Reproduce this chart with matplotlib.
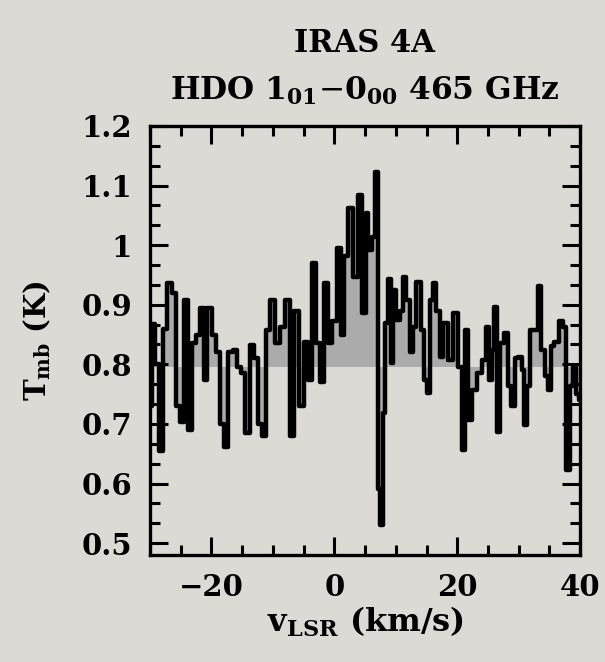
import numpy as np
import matplotlib
matplotlib.use("Agg")
import matplotlib.pyplot as plt
from matplotlib.ticker import MultipleLocator, FuncFormatter

# HDO 1_01-0_00 spectrum towards IRAS 4A
velocity = [-30.0, -29.5, -28.9, -28.3, -27.6, -26.8, -26.1, -25.4, -24.9, -24.2,
            -23.4, -22.8, -22.2, -21.6, -21.0, -20.3, -19.6, -19.0, -18.3, -17.6,
            -16.9, -16.2, -15.5, -14.9, -14.1, -13.4, -12.8, -12.2, -11.5, -10.8,
            -10.0, -9.3, -8.5, -7.6, -6.9, -6.1, -5.4, -4.6, -3.9, -3.3,
            -2.7, -2.0, -1.4, -0.7, 0.0, 0.7, 1.3, 1.9, 2.6, 3.4,
            4.2, 4.9, 5.3, 5.8, 6.3, 6.8, 7.3, 7.7, 8.1, 8.5,
            8.9, 9.4, 9.8, 10.3, 10.9, 11.3, 12.0, 12.5, 13.0, 13.7,
            14.4, 14.9, 15.4, 15.8, 16.2, 16.9, 17.4, 18.1, 18.8, 19.7,
            20.4, 21.1, 21.5, 22.0, 22.8, 23.6, 24.5, 25.0, 25.4, 25.8,
            26.3, 26.7, 27.2, 28.0, 28.5, 29.1, 29.6, 30.2, 30.7, 31.1,
            31.6, 32.1, 32.9, 33.4, 34.0, 34.5, 35.0, 35.5, 36.1, 37.0,
            37.5, 38.0, 38.6, 39.1, 39.6, 40.0]
t_mb = [0.73, 0.867, 0.80, 0.655, 0.86, 0.936, 0.92, 0.73, 0.704, 0.908,
        0.69, 0.835, 0.85, 0.894, 0.774, 0.894, 0.85, 0.82, 0.70, 0.662,
        0.82, 0.824, 0.795, 0.785, 0.685, 0.833, 0.81, 0.70, 0.68, 0.858,
        0.908, 0.835, 0.863, 0.908, 0.679, 0.889, 0.73, 0.838, 0.774, 0.97,
        0.835, 0.77, 0.936, 0.835, 0.872, 0.995, 0.85, 0.981, 1.062, 0.947,
        1.085, 0.886, 1.054, 0.992, 1.014, 1.123, 0.59, 0.531, 0.718, 0.869,
        0.944, 0.802, 0.925, 0.875, 0.89, 0.947, 0.908, 0.82, 0.863, 0.939,
        0.858, 0.774, 0.752, 0.908, 0.936, 0.89, 0.813, 0.869, 0.808, 0.886,
        0.796, 0.657, 0.858, 0.707, 0.757, 0.785, 0.808, 0.863, 0.774, 0.824,
        0.897, 0.687, 0.835, 0.852, 0.763, 0.73, 0.81, 0.813, 0.791, 0.699,
        0.763, 0.858, 0.858, 0.931, 0.824, 0.78, 0.757, 0.83, 0.838, 0.872,
        0.863, 0.623, 0.763, 0.796, 0.75, 0.74]
baseline = 0.795

bg = "#dcdad5"
font = "DejaVu Serif"
plt.rcParams["mathtext.fontset"] = "dejavuserif"

fig = plt.figure(figsize=(6.05, 6.62), dpi=100, facecolor=bg)
ax = fig.add_axes([0.248, 0.1616, 0.711, 0.6481])
ax.set_facecolor(bg)

ax.fill_between(velocity, t_mb, baseline, step="mid", color="#ababab", lw=0)
ax.step(velocity, t_mb, where="mid", color="black", lw=3.2)

ax.set_xlim(-30, 40)
ax.set_ylim(0.48, 1.2)
ax.xaxis.set_major_locator(MultipleLocator(20))
ax.xaxis.set_minor_locator(MultipleLocator(5))
ax.yaxis.set_major_locator(MultipleLocator(0.1))
ax.yaxis.set_minor_locator(MultipleLocator(0.1 / 3))
ax.yaxis.set_major_formatter(FuncFormatter(lambda y, p: "%g" % round(y, 2)))
ax.xaxis.set_major_formatter(FuncFormatter(lambda x, p: "%d" % x if x >= 0 else "\u2212%d" % -x))

ax.tick_params(which="both", direction="in", top=True, right=True, width=2.2)
ax.tick_params(which="major", length=13, pad=13)
ax.tick_params(which="minor", length=7)
for s in ax.spines.values():
    s.set_linewidth(2.4)
for lab in ax.get_xticklabels() + ax.get_yticklabels():
    lab.set_fontfamily(font)
    lab.set_fontweight("bold")
    lab.set_fontsize(21)

ax.set_xlabel(r"v$_{\mathbf{LSR}}$ (km/s)", fontfamily=font, fontweight="bold", fontsize=23, labelpad=2)
ax.set_ylabel(r"T$_{\mathbf{mb}}$ (K)", fontfamily=font, fontweight="bold", fontsize=21, labelpad=20)

fig.text(0.603, 0.935, "IRAS 4A", ha="center", va="center",
         fontfamily=font, fontweight="bold", fontsize=22)
fig.text(0.603, 0.862, r"HDO 1$_{\mathbf{01}}$$-$0$_{\mathbf{00}}$ 465 GHz", ha="center", va="center",
         fontfamily=font, fontweight="bold", fontsize=22.5)

fig.savefig("out.png", dpi=100, facecolor=bg)
